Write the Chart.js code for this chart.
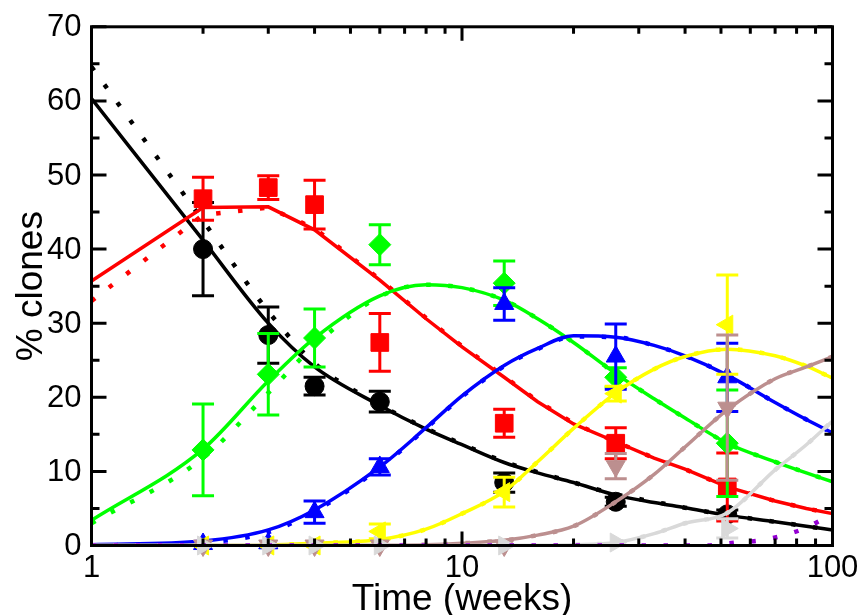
<!DOCTYPE html>
<html>
<head>
<meta charset="utf-8">
<script src="https://cdn.jsdelivr.net/npm/chart.js@4.4.1/dist/chart.umd.min.js"></script>
<style>
html,body{margin:0;padding:0;background:#fff;}
#wrap{width:863px;height:615px;position:relative;}
</style>
</head>
<body>
<div id="wrap"><canvas id="c" width="863" height="615"></canvas></div>
<script>
// ---- observed data (weeks) ----
const weeks = [2, 3, 4, 6, 13, 26, 52];
const blackObs  = [40.0, 28.4, 21.5, 19.4, 8.5, 5.9, 4.2];
const blackErr  = [6.3, 3.8, 1.2, 1.4, 1.3, 0.6, 0.6];
const redObs    = [46.8, 48.3, 46.0, 27.4, 16.5, 13.8, 7.9];
const redErr    = [2.9, 1.6, 3.3, 3.9, 1.9, 2.1, 4.6];
const greenObs  = [12.9, 23.1, 28.0, 40.6, 35.4, 22.7, 13.8];
const greenErr  = [6.2, 5.5, 3.9, 2.7, 3.0, 1.3, 7.2];
const blueObs   = [0.2, 0.3, 4.5, 10.6, 32.6, 25.5, 22.7];
const blueErr   = [0, 0, 1.5, 1.1, 2.2, 4.4, 4.6];
const yellowObs = [0, 0, 0, 1.9, 7.2, 20.5, 29.8];
const yellowErr = [0, 0, 0, 1.0, 2.0, 1.0, 6.7];
const brownObs  = [0, 0, 0, 0, 0, 10.7, 18.6];
const brownErr  = [0, 0, 0, 0, 0, 1.7, 9.8];
const grayObs   = [0, 0, 0, 0, 0, 0.4, 2.3];
const grayErr   = [0, 0, 0, 0, 0, 0, 1.3];

// ---- model curves ----
const fitWeeks  = [1, 2, 3, 4, 6, 8, 10, 13, 16, 20, 26, 33, 40, 52, 70, 85, 100];
const blackFit  = [60.3, 41.2, 30.0, 24.1, 18.9, 15.7, 13.6, 11.2, 9.8, 8.5, 6.8, 5.8, 5.1, 4.1, 3.2, 2.6, 2.1];
const blackAlt  = [64.6, 43.8, 31.6, 24.6, 19.0, 15.8, 13.7, 11.3, 9.9, 8.5, 6.9, 5.9, 5.1, 4.1, 3.2, 2.6, 2.1];
const redFit    = [35.7, 45.6, 45.7, 42.6, 35.8, 30.6, 26.8, 22.7, 19.4, 16.4, 14.0, 11.8, 10.3, 7.9, 6.0, 5.0, 4.3];
const redAlt    = [33.0, 44.6, 45.6, 42.8, 35.9, 30.7, 26.9, 22.8, 19.5, 16.5, 14.0, 11.8, 10.3, 7.9, 6.0, 5.0, 4.3];
const greenFit  = [3.4, 13.0, 22.2, 28.0, 33.7, 35.2, 34.8, 33.1, 30.6, 27.4, 23.2, 19.8, 17.2, 13.8, 11.3, 9.8, 8.6];
const greenAlt  = [3.0, 11.8, 20.6, 27.0, 33.6, 35.2, 34.8, 33.1, 30.6, 27.4, 23.2, 19.8, 17.2, 13.8, 11.3, 9.8, 8.6];
const blueFit   = [0.1, 0.6, 2.1, 4.8, 10.6, 15.9, 20.2, 24.3, 26.6, 28.3, 28.1, 27.0, 25.6, 23.0, 19.3, 17.0, 15.2];
const blueAlt   = [0.0, 0.4, 1.8, 4.6, 10.5, 15.8, 20.1, 24.2, 26.5, 28.2, 28.1, 27.0, 25.6, 23.0, 19.3, 17.0, 15.2];
const yellowFit = [0, 0, 0.05, 0.3, 0.8, 2.2, 4.3, 7.3, 11.3, 15.8, 20.6, 23.8, 25.5, 26.5, 25.6, 24.2, 22.6];
const brownFit  = [0, 0, 0, 0, 0.03, 0.1, 0.3, 0.7, 1.4, 2.6, 5.9, 9.6, 13.3, 18.3, 22.5, 24.1, 25.5];
const grayFit   = [0, 0, 0, 0, 0, 0, 0, 0, 0.02, 0.1, 0.4, 1.6, 3.0, 4.4, 10.2, 13.6, 16.8];
const purpleWeeks = [1, 45, 55, 64, 73, 83, 93, 100];
const purpleAlt   = [0, 0, 0.4, 0.7, 1.3, 2.2, 3.4, 4.2];

// ---- axes ----
const yTicks = [0, 10, 20, 30, 40, 50, 60, 70];
const yMinor = [5, 15, 25, 35, 45, 55, 65];
const xTicks = [1, 10, 100];
const xMinor = [2, 3, 4, 5, 6, 7, 8, 9, 20, 30, 40, 50, 60, 70, 80, 90];
const xTitle = 'Time (weeks)';
const yTitle = '% clones';

const FONT = '"Liberation Sans", Arial, Helvetica, sans-serif';

function pts(xs, ys) { return xs.map((x, i) => ({x: x, y: ys[i]})); }

const series = [
  {c: '#000000', fit: blackFit,  alt: blackAlt,  obs: blackObs,  err: blackErr,  style: 'circle',   r: 9.5, rot: 0, mode: 'monotone'},
  {c: '#FF0000', fit: redFit,    alt: redAlt,    obs: redObs,    err: redErr,    style: 'rect',     r: 12.5, rot: 0, mode: 'default'},
  {c: '#00FF00', fit: greenFit,  alt: greenAlt,  obs: greenObs,  err: greenErr,  style: 'rectRot',  r: 11, rot: 0, mode: 'monotone'},
  {c: '#0000FF', fit: blueFit,   alt: blueAlt,   obs: blueObs,   err: blueErr,   style: 'triangle', r: 11, rot: 0, mode: 'monotone'},
  {c: '#FFFF00', fit: yellowFit, alt: yellowFit, obs: yellowObs, err: yellowErr, style: 'triangle', r: 11, rot: 270, mode: 'monotone'},
  {c: '#BC8F8F', fit: brownFit,  alt: brownFit,  obs: brownObs,  err: brownErr,  style: 'triangle', r: 11, rot: 180, mode: 'monotone'},
  {c: '#D9D9D9', fit: grayFit,   alt: grayFit,   obs: grayObs,   err: grayErr,   style: 'triangle', r: 11, rot: 90, mode: 'monotone'}
];

const datasets = [];
series.forEach(s => {
  datasets.push({type: 'line', data: pts(fitWeeks, s.fit), borderColor: s.c, borderWidth: 3.5,
    pointRadius: 0, fill: false, tension: 0, cubicInterpolationMode: s.mode});
  datasets.push({type: 'line', data: pts(fitWeeks, s.alt), borderColor: s.c, borderWidth: 4.5,
    borderDash: [4.5, 17.5], borderCapStyle: 'butt', pointRadius: 0, fill: false, tension: 0,
    cubicInterpolationMode: s.mode});
  datasets.push({type: 'line', showLine: false, data: pts(weeks, s.obs), pointStyle: s.style,
    pointRadius: s.r, pointRotation: s.rot, backgroundColor: s.c, borderColor: s.c, borderWidth: 1,
    clip: false, errs: s.err, barColor: s.c});
});
datasets.push({type: 'line', data: pts(purpleWeeks, purpleAlt), borderColor: '#9400D3', borderWidth: 4.5,
  borderDash: [4.5, 17.5], borderCapStyle: 'butt', pointRadius: 0, fill: false, cubicInterpolationMode: 'monotone'});
datasets.forEach((d, i) => { d.order = datasets.length - i; });

const errorBars = {
  id: 'errorBars',
  beforeDatasetDraw(chart, args) {
    const ds = chart.data.datasets[args.index];
    if (!ds.errs) return;
    const ctx = chart.ctx, x = chart.scales.x, y = chart.scales.y;
    ctx.save();
    ctx.strokeStyle = ds.barColor;
    ctx.lineWidth = 3;
    ds.data.forEach((p, i) => {
      const e = ds.errs[i];
      if (!e) return;
      const px = x.getPixelForValue(p.x);
      const y1 = y.getPixelForValue(p.y + e), y2 = y.getPixelForValue(p.y - e);
      ctx.beginPath();
      ctx.moveTo(px, y1); ctx.lineTo(px, y2);
      ctx.moveTo(px - 11, y1); ctx.lineTo(px + 11, y1);
      ctx.moveTo(px - 11, y2); ctx.lineTo(px + 11, y2);
      ctx.stroke();
    });
    ctx.restore();
  }
};

const frame = {
  id: 'frame',
  afterDraw(chart) {
    const ctx = chart.ctx, a = chart.chartArea, x = chart.scales.x, y = chart.scales.y;
    ctx.save();
    ctx.strokeStyle = '#000';
    ctx.lineWidth = 3;
    ctx.beginPath();
    const yt = (v, L) => { const py = y.getPixelForValue(v);
      ctx.moveTo(a.left, py); ctx.lineTo(a.left + L, py);
      ctx.moveTo(a.right, py); ctx.lineTo(a.right - L, py); };
    const xt = (v, L) => { const px = x.getPixelForValue(v);
      ctx.moveTo(px, a.bottom); ctx.lineTo(px, a.bottom - L);
      ctx.moveTo(px, a.top); ctx.lineTo(px, a.top + L); };
    yTicks.forEach(v => yt(v, 15));
    yMinor.forEach(v => yt(v, 8));
    xTicks.forEach(v => xt(v, 14));
    xMinor.forEach(v => xt(v, 7));
    ctx.stroke();
    ctx.strokeRect(a.left, a.top, a.right - a.left, a.bottom - a.top);

    ctx.fillStyle = '#000';
    ctx.font = '31px ' + FONT;
    ctx.textAlign = 'right';
    ctx.textBaseline = 'middle';
    yTicks.forEach(v => ctx.fillText(String(v), a.left - 10, y.getPixelForValue(v) + 1));
    ctx.textAlign = 'center';
    ctx.textBaseline = 'alphabetic';
    xTicks.forEach(v => ctx.fillText(String(v), x.getPixelForValue(v), 577));
    ctx.font = '37px ' + FONT;
    ctx.fillText(xTitle, (a.left + a.right) / 2, 610);
    ctx.translate(42, (a.top + a.bottom) / 2);
    ctx.rotate(-Math.PI / 2);
    ctx.fillText(yTitle, 0, 0);
    ctx.restore();
  }
};

new Chart(document.getElementById('c'), {
  data: {datasets: datasets},
  options: {
    responsive: false,
    animation: false,
    devicePixelRatio: 1,
    events: [],
    layout: {padding: {left: 91.5, right: 30.5, top: 26.8, bottom: 69.5}},
    plugins: {legend: {display: false}, tooltip: {enabled: false}},
    scales: {
      x: {type: 'logarithmic', min: 1, max: 100, display: false},
      y: {type: 'linear', min: 0, max: 70, display: false}
    }
  },
  plugins: [errorBars, frame]
});
</script>
</body>
</html>
